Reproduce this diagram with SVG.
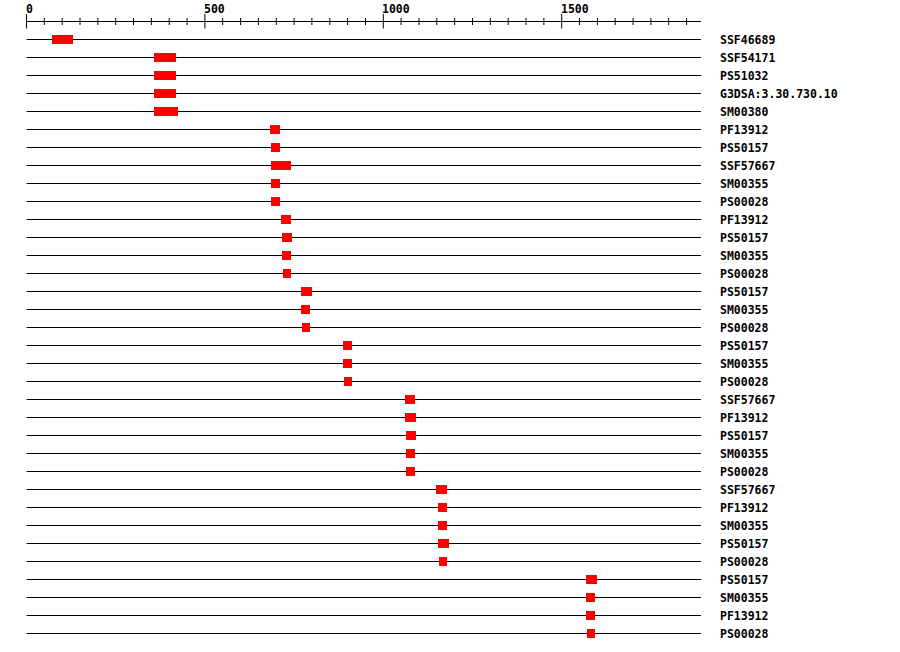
<svg xmlns="http://www.w3.org/2000/svg" width="900" height="652" viewBox="0 0 900 652">
<style>
text{font-family:"DejaVu Sans Mono","Liberation Mono",monospace;font-weight:bold;font-size:11.5px;fill:#000}
.ln{stroke:#000;stroke-width:1;fill:none}
.b{fill:#f00}
</style>
<rect width="900" height="652" fill="#fff"/>
<g id="ruler">
<line class="ln" x1="26.5" y1="21.5" x2="701" y2="21.5"/>
<path class="ln" d="M26.5 14V28.5M204.9 14V28.5M383.3 14V28.5M561.7 14V28.5"/>
<path class="ln" d="M44.3 18V25M62.2 18V25M80 18V25M97.9 18V25M115.7 18V25M133.5 18V25M151.4 18V25M169.2 18V25M187.1 18V25M222.7 18V25M240.6 18V25M258.4 18V25M276.3 18V25M294.1 18V25M311.9 18V25M329.8 18V25M347.6 18V25M365.5 18V25M401.1 18V25M419 18V25M436.8 18V25M454.7 18V25M472.5 18V25M490.3 18V25M508.2 18V25M526 18V25M543.9 18V25M579.5 18V25M597.4 18V25M615.2 18V25M633.1 18V25M650.9 18V25M668.7 18V25M686.6 18V25"/>
<text x="26" y="12.5">0</text>
<text x="204" y="12.5">500</text>
<text x="382" y="12.5">1000</text>
<text x="561" y="12.5">1500</text>
</g>
<g id="connectors">
<path class="ln" d="M26.5 39.5H701M26.5 57.5H701M26.5 75.5H701M26.5 93.5H701M26.5 111.5H701M26.5 129.5H701M26.5 147.5H701M26.5 165.5H701M26.5 183.5H701M26.5 201.5H701M26.5 219.5H701M26.5 237.5H701M26.5 255.5H701M26.5 273.5H701M26.5 291.5H701M26.5 309.5H701M26.5 327.5H701M26.5 345.5H701M26.5 363.5H701M26.5 381.5H701M26.5 399.5H701M26.5 417.5H701M26.5 435.5H701M26.5 453.5H701M26.5 471.5H701M26.5 489.5H701M26.5 507.5H701M26.5 525.5H701M26.5 543.5H701M26.5 561.5H701M26.5 579.5H701M26.5 597.5H701M26.5 615.5H701M26.5 633.5H701"/>
</g>
<g id="r1"><rect class="b" x="52" y="35" width="21" height="9"/><text x="720" y="44">SSF46689</text></g>
<g id="r2"><rect class="b" x="154" y="53" width="22" height="9"/><text x="720" y="62">SSF54171</text></g>
<g id="r3"><rect class="b" x="154" y="71" width="22" height="9"/><text x="720" y="80">PS51032</text></g>
<g id="r4"><rect class="b" x="154" y="89" width="22" height="9"/><text x="720" y="98">G3DSA:3.30.730.10</text></g>
<g id="r5"><rect class="b" x="154" y="107" width="24" height="9"/><text x="720" y="116">SM00380</text></g>
<g id="r6"><rect class="b" x="270" y="125" width="10" height="9"/><text x="720" y="134">PF13912</text></g>
<g id="r7"><rect class="b" x="271" y="143" width="9" height="9"/><text x="720" y="152">PS50157</text></g>
<g id="r8"><rect class="b" x="271" y="161" width="20" height="9"/><text x="720" y="170">SSF57667</text></g>
<g id="r9"><rect class="b" x="271" y="179" width="9" height="9"/><text x="720" y="188">SM00355</text></g>
<g id="r10"><rect class="b" x="271" y="197" width="9" height="9"/><text x="720" y="206">PS00028</text></g>
<g id="r11"><rect class="b" x="281" y="215" width="10" height="9"/><text x="720" y="224">PF13912</text></g>
<g id="r12"><rect class="b" x="282" y="233" width="10" height="9"/><text x="720" y="242">PS50157</text></g>
<g id="r13"><rect class="b" x="282" y="251" width="9" height="9"/><text x="720" y="260">SM00355</text></g>
<g id="r14"><rect class="b" x="283" y="269" width="8" height="9"/><text x="720" y="278">PS00028</text></g>
<g id="r15"><rect class="b" x="301" y="287" width="11" height="9"/><text x="720" y="296">PS50157</text></g>
<g id="r16"><rect class="b" x="301" y="305" width="9" height="9"/><text x="720" y="314">SM00355</text></g>
<g id="r17"><rect class="b" x="302" y="323" width="8" height="9"/><text x="720" y="332">PS00028</text></g>
<g id="r18"><rect class="b" x="343" y="341" width="9" height="9"/><text x="720" y="350">PS50157</text></g>
<g id="r19"><rect class="b" x="343" y="359" width="9" height="9"/><text x="720" y="368">SM00355</text></g>
<g id="r20"><rect class="b" x="344" y="377" width="8" height="9"/><text x="720" y="386">PS00028</text></g>
<g id="r21"><rect class="b" x="405" y="395" width="10" height="9"/><text x="720" y="404">SSF57667</text></g>
<g id="r22"><rect class="b" x="405" y="413" width="11" height="9"/><text x="720" y="422">PF13912</text></g>
<g id="r23"><rect class="b" x="406" y="431" width="10" height="9"/><text x="720" y="440">PS50157</text></g>
<g id="r24"><rect class="b" x="406" y="449" width="9" height="9"/><text x="720" y="458">SM00355</text></g>
<g id="r25"><rect class="b" x="406" y="467" width="9" height="9"/><text x="720" y="476">PS00028</text></g>
<g id="r26"><rect class="b" x="436" y="485" width="11" height="9"/><text x="720" y="494">SSF57667</text></g>
<g id="r27"><rect class="b" x="438" y="503" width="9" height="9"/><text x="720" y="512">PF13912</text></g>
<g id="r28"><rect class="b" x="438" y="521" width="9" height="9"/><text x="720" y="530">SM00355</text></g>
<g id="r29"><rect class="b" x="438" y="539" width="11" height="9"/><text x="720" y="548">PS50157</text></g>
<g id="r30"><rect class="b" x="439" y="557" width="8" height="9"/><text x="720" y="566">PS00028</text></g>
<g id="r31"><rect class="b" x="586" y="575" width="11" height="9"/><text x="720" y="584">PS50157</text></g>
<g id="r32"><rect class="b" x="586" y="593" width="9" height="9"/><text x="720" y="602">SM00355</text></g>
<g id="r33"><rect class="b" x="586" y="611" width="9" height="9"/><text x="720" y="620">PF13912</text></g>
<g id="r34"><rect class="b" x="587" y="629" width="8" height="9"/><text x="720" y="638">PS00028</text></g>
</svg>
